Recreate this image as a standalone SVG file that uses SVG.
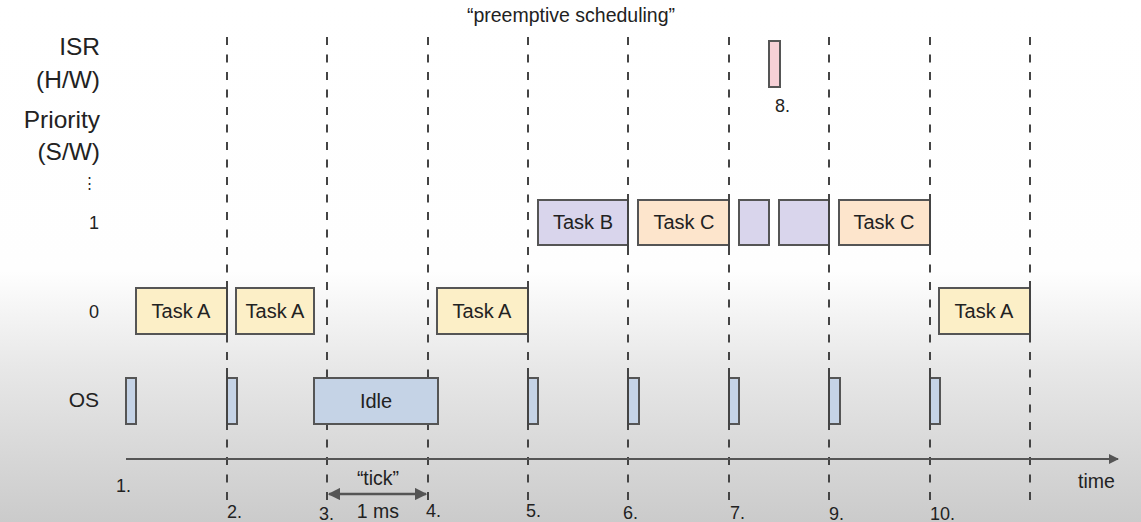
<svg xmlns="http://www.w3.org/2000/svg" width="1141" height="522" viewBox="0 0 1141 522">
  <defs>
    <linearGradient id="bg" x1="0" y1="0" x2="0" y2="1">
      <stop offset="0" stop-color="#ffffff"/>
      <stop offset="0.52" stop-color="#fefefe"/>
      <stop offset="0.7" stop-color="#e8e8e8"/>
      <stop offset="1" stop-color="#cbcbcb"/>
    </linearGradient>
    <marker id="head" viewBox="0 0 10 10" refX="9" refY="5" markerWidth="5" markerHeight="5" orient="auto-start-reverse" markerUnits="strokeWidth">
      <path d="M0,0 L10,5 L0,10 z" fill="#555"/>
    </marker>
  </defs>
  <style>
    text { font-family: "Liberation Sans", Arial, sans-serif; fill: #222; }
    .lab { font-size: 24.5px; text-anchor: end; }
    .row { font-size: 18px; text-anchor: end; }
    .row.big { font-size: 21px; }
    .row.dots { font-size: 15px; }
    .task { font-size: 20px; text-anchor: middle; }
    .num { font-size: 18px; }
    .grid { stroke: #444; stroke-width: 2; stroke-dasharray: 8 9.5; fill: none; }
    .edge { stroke: #444; stroke-width: 2; }
    .box { stroke: #555; stroke-width: 2; }
    .a { fill: #fcefc7; }
    .c { fill: #fde5cc; }
    .p { fill: #d9d5ec; }
    .os { fill: #c5d3e6; }
    .isr { fill: #f6d0d6; }
  </style>

  <rect x="0" y="0" width="1141" height="522" fill="url(#bg)"/>

  <!-- title and row labels -->
  <text x="571" y="22" font-size="19.5" text-anchor="middle">“preemptive scheduling”</text>
  <text class="lab" x="100" y="55">ISR</text>
  <text class="lab" x="100" y="88">(H/W)</text>
  <text class="lab" x="100" y="128">Priority</text>
  <text class="lab" x="100" y="160">(S/W)</text>
  <text class="row dots" x="97" y="188">⋮</text>
  <text class="row" x="99" y="229">1</text>
  <text class="row" x="99" y="318">0</text>
  <text class="row big" x="99" y="407">OS</text>

  <!-- connectors: time grid, time axis and tick span -->
  <g id="connectors">
    <g class="grid">
      <line x1="227" y1="37" x2="227" y2="502"/>
      <line x1="327" y1="37" x2="327" y2="502"/>
      <line x1="428" y1="37" x2="428" y2="502"/>
      <line x1="528" y1="37" x2="528" y2="502"/>
      <line x1="628" y1="37" x2="628" y2="502"/>
      <line x1="729" y1="37" x2="729" y2="502"/>
      <line x1="829" y1="37" x2="829" y2="502"/>
      <line x1="930" y1="37" x2="930" y2="502"/>
      <line x1="1030" y1="37" x2="1030" y2="502"/>
    </g>
    <line x1="126" y1="459" x2="1118" y2="459" stroke="#555" stroke-width="2" marker-end="url(#head)"/>
    <line x1="329" y1="494" x2="426" y2="494" stroke="#555" stroke-width="2.5" marker-start="url(#head)" marker-end="url(#head)"/>
  </g>

  <!-- priority 0 -->
  <g id="taskA1"><rect class="box a" x="136" y="288" width="91" height="46"/><text class="task" x="181" y="318">Task A</text></g>
  <g id="taskA2"><rect class="box a" x="236" y="288" width="78" height="46"/><text class="task" x="275" y="318">Task A</text></g>
  <g id="taskA3"><rect class="box a" x="437" y="288" width="91" height="46"/><text class="task" x="482" y="318">Task A</text></g>
  <g id="taskA4"><rect class="box a" x="939" y="288" width="91" height="46"/><text class="task" x="984" y="318">Task A</text></g>

  <!-- priority 1 -->
  <g id="taskB"><rect class="box p" x="538" y="200" width="90" height="45"/><text class="task" x="583" y="229">Task B</text></g>
  <g id="taskC1"><rect class="box c" x="638" y="200" width="91" height="45"/><text class="task" x="684" y="229">Task C</text></g>
  <g id="taskB2"><rect class="box p" x="739" y="200" width="30" height="45"/></g>
  <g id="taskB3"><rect class="box p" x="779" y="200" width="50" height="45"/></g>
  <g id="taskC2"><rect class="box c" x="839" y="200" width="91" height="45"/><text class="task" x="884" y="229">Task C</text></g>

  <!-- ISR -->
  <g id="isr"><rect class="box isr" x="769" y="41" width="11" height="46"/><text class="num" x="775" y="112">8.</text></g>

  <!-- OS row -->
  <g id="os1"><rect class="box os" x="126" y="378" width="10" height="46"/></g>
  <g id="os2"><rect class="box os" x="227" y="378" width="10" height="46"/></g>
  <g id="idle"><rect class="box os" x="314" y="378" width="124" height="46"/><text class="task" x="376" y="408">Idle</text></g>
  <g id="os5"><rect class="box os" x="528" y="378" width="10" height="46"/></g>
  <g id="os6"><rect class="box os" x="628" y="378" width="11" height="46"/></g>
  <g id="os7"><rect class="box os" x="729" y="378" width="10" height="46"/></g>
  <g id="os9"><rect class="box os" x="829" y="378" width="11" height="46"/></g>
  <g id="os10"><rect class="box os" x="930" y="378" width="10" height="46"/></g>

  <!-- solid context-switch edges on the grid -->
  <g class="edge">
    <line x1="227" y1="281" x2="227" y2="342"/>
    <line x1="528" y1="281" x2="528" y2="342"/>
    <line x1="1030" y1="281" x2="1030" y2="342"/>
    <line x1="628" y1="194" x2="628" y2="251"/>
    <line x1="729" y1="194" x2="729" y2="251"/>
    <line x1="829" y1="194" x2="829" y2="251"/>
    <line x1="930" y1="194" x2="930" y2="251"/>
    <line x1="227" y1="368" x2="227" y2="430"/>
    <line x1="528" y1="368" x2="528" y2="430"/>
    <line x1="628" y1="368" x2="628" y2="430"/>
    <line x1="729" y1="368" x2="729" y2="430"/>
    <line x1="829" y1="368" x2="829" y2="430"/>
    <line x1="930" y1="368" x2="930" y2="430"/>
  </g>

  <!-- time points -->
  <text class="num" x="116" y="492">1.</text>
  <text class="num" x="227" y="518">2.</text>
  <text class="num" x="319" y="520">3.</text>
  <text class="num" x="426" y="517">4.</text>
  <text class="num" x="526" y="517">5.</text>
  <text class="num" x="623" y="519">6.</text>
  <text class="num" x="730" y="519">7.</text>
  <text class="num" x="829" y="520">9.</text>
  <text class="num" x="930" y="520">10.</text>
  <text x="1078" y="488" font-size="19.5">time</text>
  <text x="378" y="485" font-size="19.5" text-anchor="middle">“tick”</text>
  <text x="378" y="518" font-size="19.5" text-anchor="middle">1 ms</text>
</svg>
